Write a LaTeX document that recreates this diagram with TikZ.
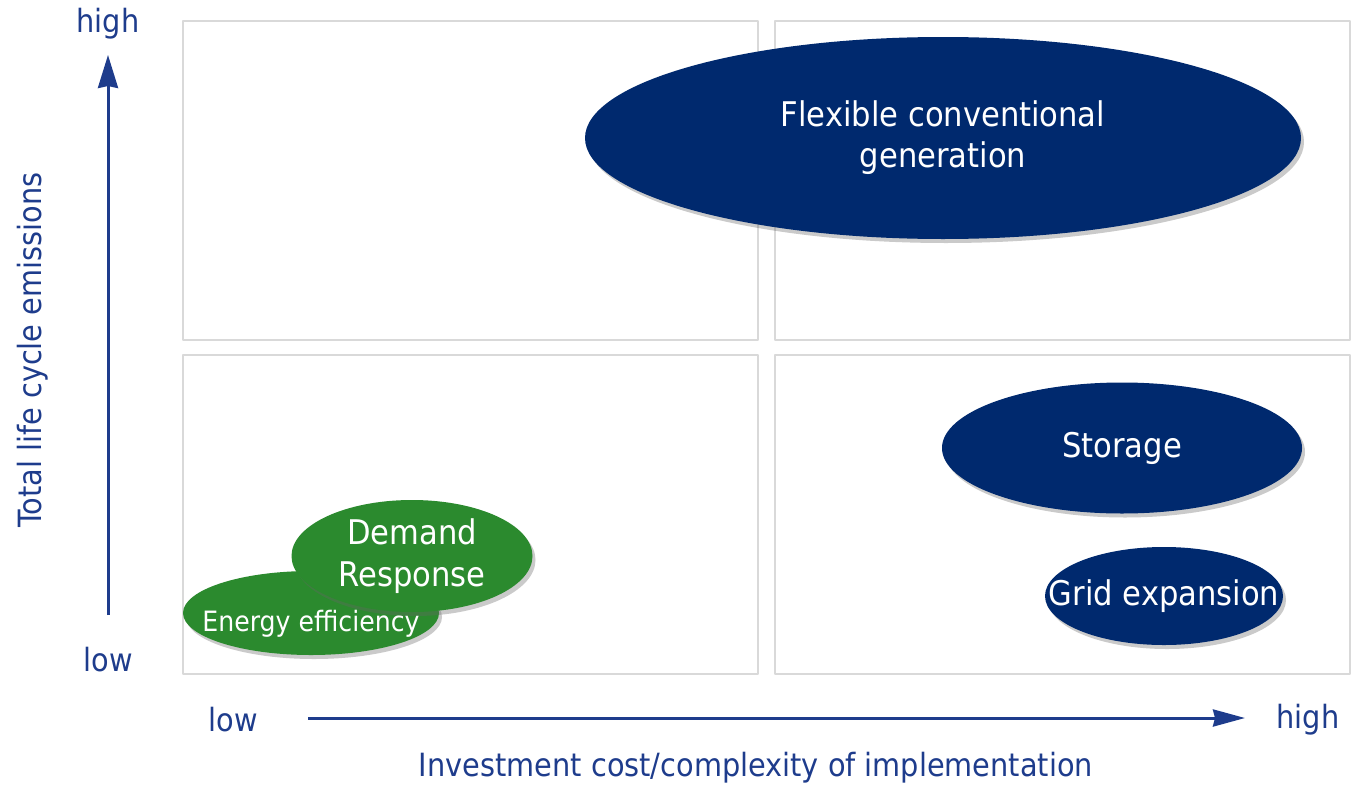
\documentclass[tikz,border=0pt]{standalone}
\usepackage{fontspec}
\setmainfont{DejaVu Sans Condensed}
\usetikzlibrary{shapes.geometric,shadows,arrows.meta}
\definecolor{navyblob}{RGB}{0,41,110}
\definecolor{greenblob}{RGB}{43,138,46}
\definecolor{axisblue}{RGB}{30,60,140}
\definecolor{boxgray}{RGB}{217,217,217}
\tikzset{
  blob/.style={ellipse, inner sep=0pt, text=white, align=center,
    drop shadow={shadow xshift=3pt, shadow yshift=-4pt, opacity=.35, fill=black!60}},
  navyblob/.style={blob, fill=navyblob, font=\fontsize{34}{41}\selectfont},
  greenblob/.style={blob, fill=greenblob},
  axisline/.style={draw=axisblue, line width=3pt},
  axislabel/.style={text=axisblue, font=\fontsize{32}{38}\selectfont, inner sep=0pt},
}
\begin{document}
\begin{tikzpicture}[x=1pt, y=-1pt, line join=round]
			\useasboundingbox (0,0) rectangle (1359,787);
			\def\bw{575}\def\bh{319}
			% quadrants
			\foreach \x/\y in {183/21, 775/21, 183/355, 775/355}\draw[boxgray, line width=2pt] (\x,\y) rectangle ++(\bw,\bh);
			% axes
			\coordinate (ybot) at (108,615);\coordinate (ytop) at (108,55);
			\coordinate (xleft) at (308,718);\coordinate (xright) at (1245,718);
			\draw[axisline, -{Stealth[length=33pt, width=20pt, inset=2pt]}] (ybot)--(ytop);
			\draw[axisline, -{Stealth[length=32pt, width=17pt, inset=2pt]}] (xleft)--(xright);
			\node[axislabel] (yhigh) at (108,24) {high};
			\node[axislabel] (ylow) at (108,660) {low};
			\node[axislabel] (xlow) at (233,720) {low};
			\node[axislabel] (xhigh) at (1308,720) {high};
			\node[axislabel, rotate=90] (ytitle) at (33,350) {Total life cycle emissions};
			\node[axislabel] (xtitle) at (756,768) {Investment cost/complexity of implementation};
			% options
			\node[navyblob, minimum width=716pt, minimum height=202pt] (flex) at (943,138) {Flexible conventional\\generation};
			\node[navyblob, minimum width=360pt, minimum height=131pt] (storage) at (1122,448) {Storage};
			\node[navyblob, inner xsep=-33pt, minimum width=238pt, minimum height=98pt] (grid) at (1164,596) {Grid expansion};
			\node[greenblob, inner xsep=-21pt, minimum width=256pt, minimum height=84pt, font=\fontsize{28}{32}\selectfont] (effic) at (311,613) {\raisebox{-18pt}[0pt][0pt]{Energy efficiency}};
			\node[greenblob, minimum width=241pt, minimum height=112pt, font=\fontsize{34}{42}\selectfont] (demand) at (412,556) {Demand\\Response};
		\end{tikzpicture}
\end{document}
